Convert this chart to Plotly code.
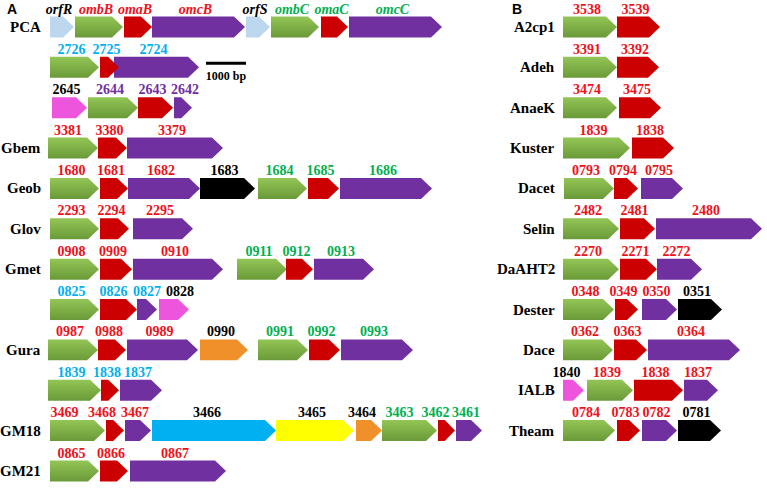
import plotly.graph_objects as go

# ---------------- data (gene coordinates in bp, relative to row start) ----------------
# Panel A rows
A_rows = ["PCA", "", "", "Gbem", "Geob", "Glov", "Gmet", "", "Gura", "", "GM18", "GM21"]
A_labels = [
    ["orfR", "ombB", "omaB", "omcB", "orfS", "ombC", "omaC", "omcC"],
    ["2726", "2725", "2724"],
    ["2645", "2644", "2643", "2642"],
    ["3381", "3380", "3379"],
    ["1680", "1681", "1682", "1683", "1684", "1685", "1686"],
    ["2293", "2294", "2295"],
    ["0908", "0909", "0910", "0911", "0912", "0913"],
    ["0825", "0826", "0827", "0828"],
    ["0987", "0988", "0989", "0990", "0991", "0992", "0993"],
    ["1839", "1838", "1837"],
    ["3469", "3468", "3467", "3466", "3465", "3464", "3463", "3462", "3461"],
    ["0865", "0866", "0867"],
]
A_starts = [
    [0, 625, 1850, 2550, 4900, 5525, 6775, 7475],
    [0, 1250, 1600],
    [50, 950, 2200, 3100],
    [-50, 1200, 1925],
    [0, 1250, 1950, 3750, 5200, 6450, 7250],
    [0, 1250, 2075],
    [0, 1250, 2075, 4675, 5900, 6600],
    [0, 1250, 2175, 2725],
    [-50, 1200, 1925, 3750, 5200, 6475, 7275],
    [-50, 1275, 1750],
    [0, 1400, 1875, 2550, 5650, 7650, 8300, 9700, 10150],
    [0, 1250, 2000],
]
A_ends = [
    [600, 1825, 2550, 4875, 5500, 6725, 7450, 9800],
    [1225, 1725, 3725],
    [925, 2200, 3075, 3550],
    [1200, 1925, 4325],
    [1225, 1950, 3750, 5125, 6425, 7225, 9550],
    [1225, 1975, 3575],
    [1225, 2050, 4325, 5925, 6575, 8100],
    [1225, 2175, 2675, 3475],
    [1200, 1900, 3700, 4950, 6450, 7250, 9075],
    [1275, 1725, 2800],
    [1375, 1850, 2525, 5650, 7600, 8300, 9675, 10125, 10800],
    [1225, 1950, 4400],
]
# gene family: O=porin (ombB), A=omaB, C=omcB, R=orf regulator,
# P=pink, K=black, Y=orange, B=blue, L=yellow
A_family = [
    ["R", "O", "A", "C", "R", "O", "A", "C"],
    ["O", "A", "C"],
    ["P", "O", "A", "C"],
    ["O", "A", "C"],
    ["O", "A", "C", "K", "O", "A", "C"],
    ["O", "A", "C"],
    ["O", "A", "C", "O", "A", "C"],
    ["O", "A", "C", "P"],
    ["O", "A", "C", "Y", "O", "A", "C"],
    ["O", "A", "C"],
    ["O", "A", "C", "B", "L", "Y", "O", "A", "C"],
    ["O", "A", "C"],
]
# label cluster: r=red, g=green, c=cyan, p=purple, k=black
A_cluster = [
    ["k", "r", "r", "r", "k", "g", "g", "g"],
    ["c", "c", "c"],
    ["k", "p", "p", "p"],
    ["r", "r", "r"],
    ["r", "r", "r", "k", "g", "g", "g"],
    ["r", "r", "r"],
    ["r", "r", "r", "g", "g", "g"],
    ["c", "c", "c", "k"],
    ["r", "r", "r", "k", "g", "g", "g"],
    ["c", "c", "c"],
    ["r", "r", "r", "k", "k", "k", "g", "g", "g"],
    ["r", "r", "r"],
]

# Panel B rows
B_rows = ["A2cp1", "Adeh", "AnaeK", "Kuster", "Dacet", "Selin", "DaAHT2",
          "Dester", "Dace", "IALB", "Theam"]
B_labels = [
    ["3538", "3539"], ["3391", "3392"], ["3474", "3475"], ["1839", "1838"],
    ["0793", "0794", "0795"], ["2482", "2481", "2480"], ["2270", "2271", "2272"],
    ["0348", "0349", "0350", "0351"], ["0362", "0363", "0364"],
    ["1840", "1839", "1838", "1837"], ["0784", "0783", "0782", "0781"],
]
B_starts = [
    [0, 1350], [0, 1350], [0, 1400], [0, 1725],
    [25, 1275, 1950], [0, 1425, 2325], [0, 1425, 2350],
    [0, 1300, 1975, 2875], [0, 1275, 2125],
    [0, 600, 1775, 3025], [0, 1350, 1975, 2875],
]
B_ends = [
    [1350, 2425], [1350, 2400], [1350, 2450], [1675, 2775],
    [1275, 1875, 3000], [1400, 2300, 4975], [1400, 2350, 3475],
    [1275, 1875, 2850, 3975], [1250, 2100, 4425],
    [525, 1750, 3000, 3875], [1300, 1925, 2850, 3950],
]
B_family = [
    ["O", "A"], ["O", "A"], ["O", "A"], ["O", "A"],
    ["O", "A", "C"], ["O", "A", "C"], ["O", "A", "C"],
    ["O", "A", "C", "K"], ["O", "A", "C"],
    ["P", "O", "A", "C"], ["O", "A", "C", "K"],
]
B_cluster = [
    ["r", "r"], ["r", "r"], ["r", "r"], ["r", "r"],
    ["r", "r", "r"], ["r", "r", "r"], ["r", "r", "r"],
    ["r", "r", "r", "k"], ["r", "r", "r"],
    ["k", "r", "r", "r"], ["r", "r", "r", "k"],
]

SCALE_BAR_BP = 1000

# ---------------- styling ----------------
FAMILY_COLOR = {"O": "#7AAA44", "A": "#CC0000", "C": "#7030A0", "R": "#BDD7EE",
                "P": "#EE55DD", "K": "#000000", "Y": "#F0902A", "B": "#00B0F0",
                "L": "#FFFF00"}
GREEN_GRADIENT = [[0, "#93C556"], [1, "#6A9A38"]]
LABEL_COLOR = {"r": "#F0101A", "g": "#00B050", "c": "#00B0F0", "p": "#7030A0", "k": "#000000"}
LABEL_NUDGE = {("A", 10, 0): -250, ("A", 10, 1): -250, ("A", 10, 3): -100,
               ("A", 10, 5): -100, ("A", 10, 6): -175, ("A", 10, 7): -200,
               ("A", 3, 0): -50, ("B", 9, 0): -100,
               ("A", 2, 3): 125, ("A", 7, 1): -50, ("A", 7, 2): 75, ("A", 7, 3): 225}
BP_PER_PX = 25
HALF_H = 0.26
HEAD_BP = 275
LABEL_DY = -0.42
SERIF = "Liberation Serif"

fig = go.Figure()


def arrow(x0, x1, y):
    head = min(HEAD_BP, 0.6 * (x1 - x0))
    xs = [x0, x1 - head, x1, x1 - head, x0, x0]
    ys = [y - HALF_H, y - HALF_H, y, y + HALF_H, y + HALF_H, y - HALF_H]
    return xs, ys


def draw_panel(panel, rows, labels, starts, ends, fams, clusters, xaxis):
    text_groups = {}
    for i in range(len(rows)):
        order = sorted(range(len(labels[i])), key=lambda j: -(ends[i][j] - starts[i][j]))
        for j in order:
            xs, ys = arrow(starts[i][j], ends[i][j], i)
            kw = {}
            if fams[i][j] == "O":
                kw["fillgradient"] = dict(type="vertical", colorscale=GREEN_GRADIENT,
                                          start=i - HALF_H, stop=i + HALF_H)
            else:
                kw["fillcolor"] = FAMILY_COLOR[fams[i][j]]
            fig.add_trace(go.Scatter(x=xs, y=ys, mode="lines", fill="toself",
                                     line=dict(width=0), hoverinfo="skip",
                                     showlegend=False, xaxis=xaxis, yaxis="y", **kw))
        for j in range(len(labels[i])):
            c = clusters[i][j]
            xc = (starts[i][j] + ends[i][j]) / 2 - 75 + LABEL_NUDGE.get((panel, i, j), 0)
            italic = panel == "A" and i == 0
            g = text_groups.setdefault((c, italic), ([], [], []))
            g[0].append(xc)
            g[1].append(i + LABEL_DY)
            g[2].append(("<b><i>%s</i></b>" if italic else "<b>%s</b>") % labels[i][j])
        if rows[i]:
            fig.add_annotation(x=-175 if panel == "A" else -150, y=i, xref=xaxis, yref="y",
                               text="<b>%s</b>" % rows[i], showarrow=False,
                               xanchor="right", yanchor="middle",
                               font=dict(family=SERIF, size=15, color="#000"))
    for (c, italic), (xs, ys, ts) in text_groups.items():
        fig.add_trace(go.Scatter(x=xs, y=ys, text=ts, mode="text", hoverinfo="skip",
                                 cliponaxis=False,
                                 textfont=dict(family=SERIF, size=14, color=LABEL_COLOR[c]),
                                 showlegend=False, xaxis=xaxis, yaxis="y"))


draw_panel("A", A_rows, A_labels, A_starts, A_ends, A_family, A_cluster, "x")
draw_panel("B", B_rows, B_labels, B_starts, B_ends, B_family, B_cluster, "x2")

# scale bar (row 1 of panel A)
sb_x0 = 3900
fig.add_trace(go.Scatter(x=[sb_x0, sb_x0 + SCALE_BAR_BP], y=[0.9, 0.9], mode="lines",
                         line=dict(color="#000", width=3), hoverinfo="skip",
                         showlegend=False, xaxis="x", yaxis="y"))
fig.add_trace(go.Scatter(x=[sb_x0 + SCALE_BAR_BP / 2], y=[1.25], mode="text",
                         text=["<b>%d bp</b>" % SCALE_BAR_BP], hoverinfo="skip",
                         textfont=dict(family=SERIF, size=12, color="#000"),
                         showlegend=False, xaxis="x", yaxis="y"))

W, H = 767, 490
ROW0_PX, ROW_PX = 27, 40.36
fig.update_layout(
    width=W, height=H, margin=dict(l=0, r=0, t=0, b=0),
    paper_bgcolor="white", plot_bgcolor="white",
    xaxis=dict(range=[-50 * BP_PER_PX, (W - 50) * BP_PER_PX], visible=False,
               domain=[0, 1], fixedrange=True),
    xaxis2=dict(range=[-563 * BP_PER_PX, (W - 563) * BP_PER_PX], visible=False,
                overlaying="x", anchor="y", fixedrange=True),
    yaxis=dict(range=[(H - ROW0_PX) / ROW_PX, -ROW0_PX / ROW_PX], visible=False,
               fixedrange=True),
)
fig.add_annotation(x=5 / W, y=1 - 9 / H, xref="paper", yref="paper", text="<b>A</b>",
                   showarrow=False, xanchor="left", yanchor="middle",
                   font=dict(family="Liberation Sans", size=14, color="#000"))
fig.add_annotation(x=510 / W, y=1 - 9 / H, xref="paper", yref="paper", text="<b>B</b>",
                   showarrow=False, xanchor="left", yanchor="middle",
                   font=dict(family="Liberation Sans", size=14, color="#000"))

fig.write_html("out.html", config={"displayModeBar": False},
               post_script="document.body.style.margin='0';")
